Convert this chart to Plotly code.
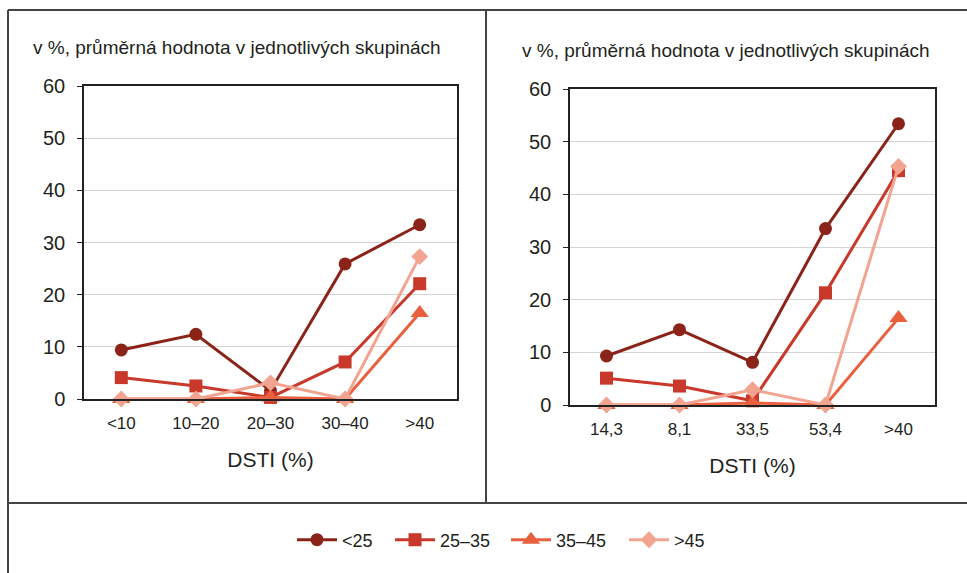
import plotly.graph_objects as go

W, H = 967, 573

# Category labels for the two panels
cats_left = ["<10", "10–20", "20–30", "30–40", ">40"]
cats_right = ["14,3", "8,1", "33,5", "53,4", ">40"]

# Series names (age groups)
series_names = ["<25", "25–35", "35–45", ">45"]

# Left panel values (%)
left_lt25 = [9.4, 12.4, 1.6, 25.9, 33.4]
left_25_35 = [4.1, 2.5, 0.3, 7.1, 22.1]
left_35_45 = [0.0, 0.0, 0.3, 0.0, 16.5]
left_gt45 = [0.0, 0.0, 3.1, 0.0, 27.3]

# Right panel values (%)
right_lt25 = [9.3, 14.3, 8.1, 33.5, 53.4]
right_25_35 = [5.1, 3.6, 0.8, 21.3, 44.5]
right_35_45 = [0.0, 0.0, 0.4, 0.0, 16.5]
right_gt45 = [0.0, 0.0, 2.9, 0.0, 45.3]

y_ticks = [0, 10, 20, 30, 40, 50, 60]

colors = ["#8B2318", "#C9392B", "#E8603E", "#F2A491"]
symbols = ["circle", "square", "triangle-up", "diamond"]
sizes = [13, 13, 16, 13]

FONT = "Liberation Sans, Arial, sans-serif"
TXT = "#231F20"


def px(x):
    return x / W


def py(y):
    return 1 - y / H


fig = go.Figure()

left_data = [left_lt25, left_25_35, left_35_45, left_gt45]
right_data = [right_lt25, right_25_35, right_35_45, right_gt45]
legend_ids = ["legend", "legend2", "legend3", "legend4"]

for i, name in enumerate(series_names):
    fig.add_trace(go.Scatter(
        x=cats_left, y=left_data[i], name=name, mode="lines+markers",
        line=dict(color=colors[i], width=3),
        marker=dict(symbol=symbols[i], size=sizes[i], color=colors[i]),
        xaxis="x", yaxis="y", legend=legend_ids[i], showlegend=True,
        cliponaxis=False,
    ))
for i, name in enumerate(series_names):
    fig.add_trace(go.Scatter(
        x=cats_right, y=right_data[i], name=name, mode="lines+markers",
        line=dict(color=colors[i], width=3),
        marker=dict(symbol=symbols[i], size=sizes[i], color=colors[i]),
        xaxis="x2", yaxis="y2", showlegend=False,
        cliponaxis=False,
    ))

yaxis_common = dict(
    range=[0, 60], tickvals=y_ticks, showgrid=True, gridcolor="#D4D4D4",
    gridwidth=1.2, showline=True, linecolor="#222", linewidth=1.5, mirror=True,
    ticks="outside", ticklen=5, tickcolor="#222", zeroline=False,
    tickfont=dict(family=FONT, size=20, color=TXT), ticklabelstandoff=8,
    fixedrange=True,
)
xaxis_common = dict(
    type="category", range=[-0.5, 4.5], showgrid=False, showline=True,
    linecolor="#222", linewidth=1.5, mirror=True, ticks="",
    tickfont=dict(family=FONT, size=17, color=TXT), ticklabelstandoff=8,
    title=dict(text="DSTI (%)", font=dict(family=FONT, size=21, color=TXT), standoff=20),
    fixedrange=True,
)

# One legend per series so each entry sits at its own position
legend_x = [292, 390, 506, 624]
legend_common = dict(
    orientation="h", y=py(540), yanchor="middle", xanchor="left",
    font=dict(family=FONT, size=18, color=TXT), itemwidth=40,
    bgcolor="rgba(0,0,0,0)", borderwidth=0,
)

fig.update_layout(
    width=W, height=H,
    margin=dict(l=0, r=0, t=0, b=0, autoexpand=False),
    paper_bgcolor="white", plot_bgcolor="white",
    xaxis=dict(domain=[px(84), px(457)], anchor="y", **xaxis_common),
    yaxis=dict(domain=[py(399), py(86)], anchor="x", **yaxis_common),
    xaxis2=dict(domain=[px(570), px(935)], anchor="y2", **xaxis_common),
    yaxis2=dict(domain=[py(405), py(89)], anchor="x2", **yaxis_common),
    legend=dict(x=px(legend_x[0]), **legend_common),
    legend2=dict(x=px(legend_x[1]), **legend_common),
    legend3=dict(x=px(legend_x[2]), **legend_common),
    legend4=dict(x=px(legend_x[3]), **legend_common),
    showlegend=True,
)

# Panel subtitles
for xc, yc in [(237, 47), (726, 50)]:
    fig.add_annotation(
        x=px(xc), y=py(yc), xref="paper", yref="paper", showarrow=False,
        text="v %, průměrná hodnota v jednotlivých skupinách",
        font=dict(family=FONT, size=19, color=TXT), xanchor="center", yanchor="middle",
    )

# Outer frame and dividers
frame = "#444"
lines = [
    (8, 10, 967, 10),
    (8, 10, 8, 573),
    (486, 10, 486, 503),
    (8, 503, 967, 503),
]
for x0, y0, x1, y1 in lines:
    fig.add_shape(type="line", xref="paper", yref="paper",
                  x0=px(x0), y0=py(y0), x1=px(x1), y1=py(y1),
                  line=dict(color=frame, width=2))

fig.write_html("out.html")
